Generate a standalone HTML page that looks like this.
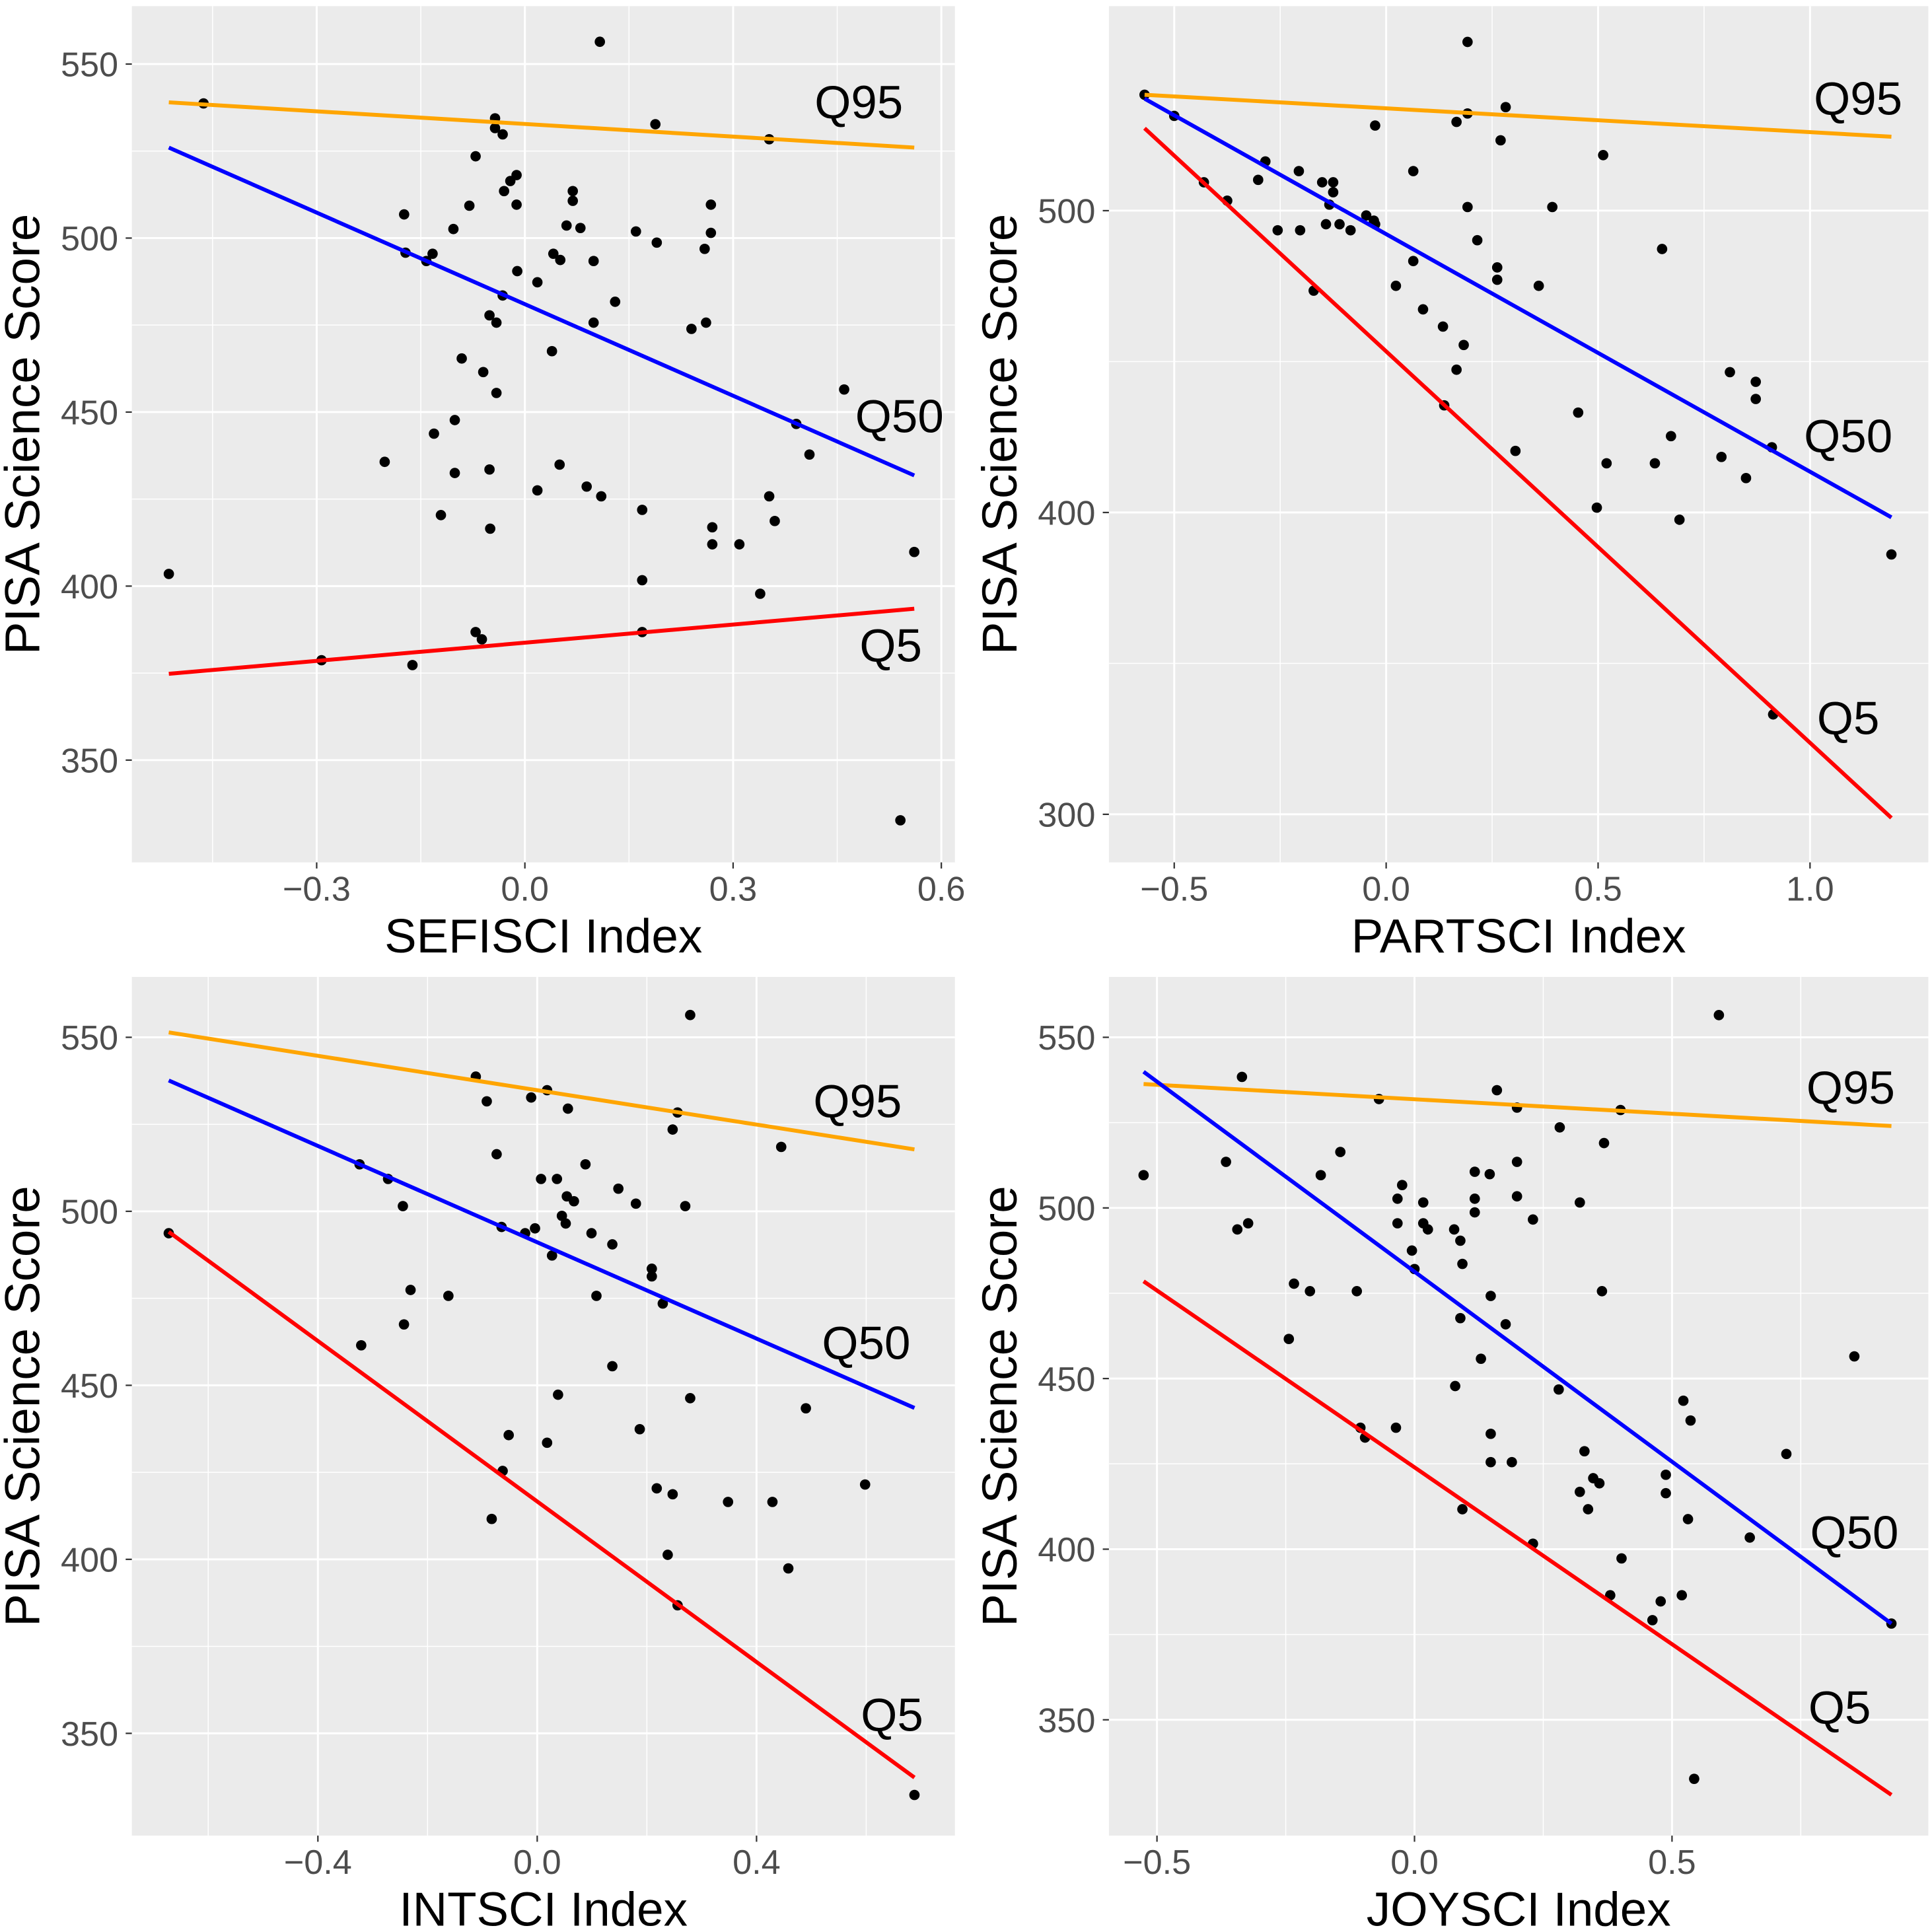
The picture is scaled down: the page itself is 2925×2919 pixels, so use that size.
<!DOCTYPE html>
<html><head><meta charset="utf-8"><style>
html,body{margin:0;padding:0;background:#fff;}
svg{display:block;font-family:"Liberation Sans",sans-serif;}
</style></head><body>
<svg id="c" width="2925" height="2919" viewBox="0 0 1568 1565" preserveAspectRatio="none" xmlns="http://www.w3.org/2000/svg"></svg>
<script>
// Panel 1 data: SEFISCI
const p1x = [-0.513,-0.463,-0.293,-0.202,-0.174,-0.172,-0.162,-0.142,-0.133,-0.131,-0.121,-0.103,-0.101,-0.101,-0.091,-0.080,-0.071,-0.071,-0.062,-0.060,-0.051,-0.051,-0.050,-0.043,-0.043,-0.041,-0.041,-0.032,-0.032,-0.030,-0.021,-0.012,-0.012,-0.011,0.018,0.018,0.039,0.041,0.050,0.051,0.060,0.069,0.069,0.080,0.089,0.099,0.099,0.108,0.110,0.130,0.160,0.169,0.169,0.169,0.188,0.190,0.240,0.259,0.261,0.268,0.268,0.270,0.270,0.309,0.339,0.352,0.352,0.360,0.391,0.410,0.460,0.541,0.561];
const p1y = [403.5,538.7,378.7,435.7,506.8,495.8,377.3,493.4,495.5,443.8,420.4,502.6,447.7,432.5,465.4,509.3,523.5,386.8,384.7,461.5,477.8,433.5,416.5,534.4,531.6,475.7,455.5,529.8,483.5,513.5,516.4,518.1,509.6,490.5,427.5,487.3,467.5,495.5,434.9,493.7,503.6,513.5,510.7,502.9,428.6,493.4,475.7,556.4,425.8,481.7,501.9,421.9,401.7,386.8,532.7,498.7,473.9,496.9,475.7,501.5,509.6,416.9,412.0,412.0,397.8,528.4,425.8,418.7,446.6,437.8,456.5,332.7,409.8];
const p1lines = {q95:[539,526.0], q50:[526,431.8], q5:[374.8,393.5]};
const p1xr = [-0.513,0.561];
// Panel 2: PARTSCI
const p2x = [-0.570,-0.500,-0.430,-0.375,-0.302,-0.285,-0.256,-0.206,-0.203,-0.171,-0.151,-0.142,-0.134,-0.125,-0.125,-0.110,-0.084,-0.047,-0.029,-0.026,-0.026,0.023,0.064,0.064,0.087,0.134,0.137,0.166,0.166,0.183,0.192,0.192,0.192,0.215,0.262,0.262,0.270,0.282,0.305,0.360,0.392,0.453,0.497,0.520,0.512,0.634,0.651,0.672,0.692,0.791,0.811,0.849,0.872,0.872,0.910,0.913,1.192];
const p2y = [538.4,531.4,509.4,503.3,510.2,516.3,493.5,513.1,493.5,473.5,509.4,495.5,502.0,509.4,506.1,495.5,493.5,498.4,496.7,528.2,495.5,475.1,513.1,483.3,467.3,461.6,435.5,529.4,447.3,455.5,555.9,532.2,501.2,490.2,481.2,477.1,523.3,534.3,420.4,475.1,501.2,433.1,401.6,416.3,518.4,416.3,487.3,425.3,397.6,418.4,446.5,411.4,443.3,437.6,421.6,333.1,386.1];
const p2lines = {q95:[538.4,524.5], q50:[537.1,398.4], q5:[527.3,298.8]};
const p2xr = [-0.570,1.192];
// Panel 3: INTSCI
const p3x = [-0.672,-0.324,-0.321,-0.272,-0.245,-0.243,-0.231,-0.162,-0.112,-0.092,-0.083,-0.074,-0.065,-0.063,-0.052,-0.022,-0.011,-0.004,0.007,0.018,0.018,0.027,0.036,0.038,0.045,0.052,0.056,0.054,0.067,0.088,0.099,0.108,0.137,0.137,0.148,0.180,0.187,0.209,0.209,0.218,0.229,0.238,0.247,0.247,0.256,0.256,0.270,0.279,0.279,0.348,0.429,0.445,0.458,0.490,0.598,0.688];
const p3y = [493.7,513.5,461.5,509.3,501.5,467.5,477.4,475.7,538.7,531.6,411.6,516.4,495.5,425.4,435.7,493.7,532.7,495.1,509.3,534.8,433.5,487.3,509.3,447.3,498.7,496.5,529.5,504.3,502.9,513.5,493.7,475.7,490.5,455.5,506.5,502.2,437.4,483.5,481.3,420.4,473.5,401.3,418.7,523.5,528.4,386.8,501.5,556.4,446.3,416.5,416.5,518.5,397.4,443.4,421.5,332.3];
const p3lines = {q95:[551.4,517.8], q50:[537.6,443.5], q5:[494.1,337.3]};
const p3xr = [-0.672,0.688];
// Panel 4: JOYSCI
const p4x = [-0.526,-0.366,-0.344,-0.335,-0.323,-0.244,-0.234,-0.203,-0.182,-0.144,-0.112,-0.105,-0.096,-0.069,-0.036,-0.033,-0.033,-0.024,-0.005,0.0,0.017,0.017,0.026,0.077,0.079,0.089,0.089,0.093,0.093,0.117,0.117,0.117,0.129,0.146,0.148,0.148,0.148,0.160,0.177,0.189,0.199,0.199,0.199,0.230,0.230,0.280,0.282,0.321,0.321,0.330,0.337,0.347,0.359,0.364,0.368,0.380,0.400,0.402,0.462,0.478,0.488,0.488,0.519,0.522,0.531,0.536,0.543,0.591,0.651,0.722,0.854,0.926];
const p4y = [509.6,513.5,493.7,538.4,495.5,461.6,477.8,475.6,509.6,516.4,475.6,435.6,432.7,531.9,435.6,495.5,502.7,506.7,487.5,482.1,501.6,495.5,493.7,493.7,447.8,467.7,490.4,483.6,411.7,498.7,510.6,502.7,455.8,509.9,474.2,433.8,425.5,534.5,465.9,425.5,513.5,503.4,529.4,496.6,401.6,446.8,523.6,501.6,416.8,428.7,411.7,420.8,419.3,475.6,519.0,386.5,528.7,397.3,379.2,384.7,421.8,416.4,386.5,443.5,408.8,437.7,332.7,556.5,403.4,427.9,456.5,378.2];
const p4lines = {q95:[536.3,524.0], q50:[539.9,378.2], q5:[478.5,328.0]};
const p4xr = [-0.526,0.926];

const NS="http://www.w3.org/2000/svg";
const svg=document.getElementById('c');
function mk(tag,attrs,parent){const e=document.createElementNS(NS,tag);for(const k in attrs)e.setAttribute(k,attrs[k]);(parent||svg).appendChild(e);return e;}

const panels=[
 {id:'sefisci',L:107,R:775,T:5,B:700,x0:0,px0:426,ppx:563.3,y0:550,py0:52,ppy:2.825,xt:[-0.3,0,0.3,0.6],xlab:['\u22120.3','0.0','0.3','0.6'],xmin:[-0.45,-0.15,0.15,0.45],yt:[350,400,450,500,550],ymin:[375,425,475,525],title:'SEFISCI Index',xs:p1x,ys:p1y,ln:p1lines,xr:p1xr,lab:{q95:[697,83],q50:[730,338],q5:[723,524]}},
 {id:'partsci',L:900,R:1565,T:5,B:700,x0:0,px0:1125,ppx:344,y0:500,py0:171,ppy:2.45,xt:[-0.5,0,0.5,1.0],xlab:['\u22120.5','0.0','0.5','1.0'],xmin:[-0.25,0.25,0.75],yt:[300,400,500],ymin:[350,450],title:'PARTSCI Index',xs:p2x,ys:p2y,ln:p2lines,xr:p2xr,lab:{q95:[1508,80],q50:[1500,354],q5:[1500,583]}},
 {id:'intsci',L:107,R:775,T:793,B:1490,x0:0,px0:436,ppx:445,y0:550,py0:842,ppy:2.825,xt:[-0.4,0,0.4],xlab:['\u22120.4','0.0','0.4'],xmin:[-0.6,-0.2,0.2,0.6],yt:[350,400,450,500,550],ymin:[375,425,475,525],title:'INTSCI Index',xs:p3x,ys:p3y,ln:p3lines,xr:p3xr,lab:{q95:[696,894],q50:[703,1090],q5:[724,1392]}},
 {id:'joysci',L:900,R:1565,T:793,B:1490,x0:0,px0:1148,ppx:418,y0:550,py0:842,ppy:2.77,xt:[-0.5,0,0.5],xlab:['\u22120.5','0.0','0.5'],xmin:[-0.25,0.25,0.75],yt:[350,400,450,500,550],ymin:[375,425,475,525],title:'JOYSCI Index',xs:p4x,ys:p4y,ln:p4lines,xr:p4xr,lab:{q95:[1502,883],q50:[1505,1244],q5:[1493,1386]}}
];
const cols={q95:'#FFA500',q50:'#0000FF',q5:'#FF0000'};
const names={q95:'Q95',q50:'Q50',q5:'Q5'};

panels.forEach((p,i)=>{
 const X=v=>p.px0+v*p.ppx, Y=v=>p.py0-(v-p.y0)*p.ppy;
 const g=mk('g',{});
 
 
 const cp=mk('clipPath',{id:'cp'+i},g);mk('rect',{x:p.L,y:p.T,width:p.R-p.L,height:p.B-p.T},cp);
 const bg=mk('rect',{x:p.L,y:p.T,width:p.R-p.L,height:p.B-p.T,fill:'#EBEBEB'},g);
 
 
 p.xmin.forEach(v=>{const x=X(v);if(x>p.L&&x<p.R)mk('line',{x1:x,x2:x,y1:p.T,y2:p.B,stroke:'#fff','stroke-width':0.8},g);});
 p.ymin.forEach(v=>{const y=Y(v);if(y>p.T&&y<p.B)mk('line',{x1:p.L,x2:p.R,y1:y,y2:y,stroke:'#fff','stroke-width':0.8},g);});
 p.xt.forEach((v,k)=>{const x=X(v);
   mk('line',{x1:x,x2:x,y1:p.T,y2:p.B,stroke:'#fff','stroke-width':1.6},g);
   mk('line',{x1:x,x2:x,y1:p.B,y2:p.B+5,stroke:'#333','stroke-width':1.2},g);
   const t=mk('text',{x:x,y:p.B+31,'text-anchor':'middle','font-size':28,fill:'#4D4D4D'},g);t.textContent=p.xlab[k];
   
   });
 p.yt.forEach(v=>{const y=Y(v);
   mk('line',{x1:p.L,x2:p.R,y1:y,y2:y,stroke:'#fff','stroke-width':1.6},g);
   mk('line',{x1:p.L-5,x2:p.L,y1:y,y2:y,stroke:'#333','stroke-width':1.2},g);
   const t=mk('text',{x:p.L-11,y:y+10,'text-anchor':'end','font-size':28,fill:'#4D4D4D'},g);t.textContent=v;
   
   });
 const pts=mk('g',{'clip-path':'url(#cp'+i+')'},g);
 p.xs.forEach((v,k)=>{const c=mk('circle',{cx:X(v),cy:Y(p.ys[k]),r:4.2,fill:'#000'},pts);
   
   });
 ['q95','q50','q5'].forEach(q=>{
   const l=mk('line',{x1:X(p.xr[0]),y1:Y(p.ln[q][0]),x2:X(p.xr[1]),y2:Y(p.ln[q][1]),stroke:cols[q],'stroke-width':3.2},pts);
   
   
   const t=mk('text',{x:p.lab[q][0],y:p.lab[q][1]+13,'text-anchor':'middle','font-size':38,fill:'#000'},g);t.textContent=names[q];
   
   });
 const xt=mk('text',{x:(p.L+p.R)/2,y:p.B+73,'text-anchor':'middle','font-size':39,fill:'#000'},g);xt.textContent=p.title;
 
 
 const cy=(p.T+p.B)/2, cx=p.L-75;
 const yt=mk('text',{x:cx,y:cy,'text-anchor':'middle','font-size':40,fill:'#000',transform:'rotate(-90 '+cx+' '+cy+')'},g);yt.textContent='PISA Science Score';
 
 
});
</script>
</body></html>
